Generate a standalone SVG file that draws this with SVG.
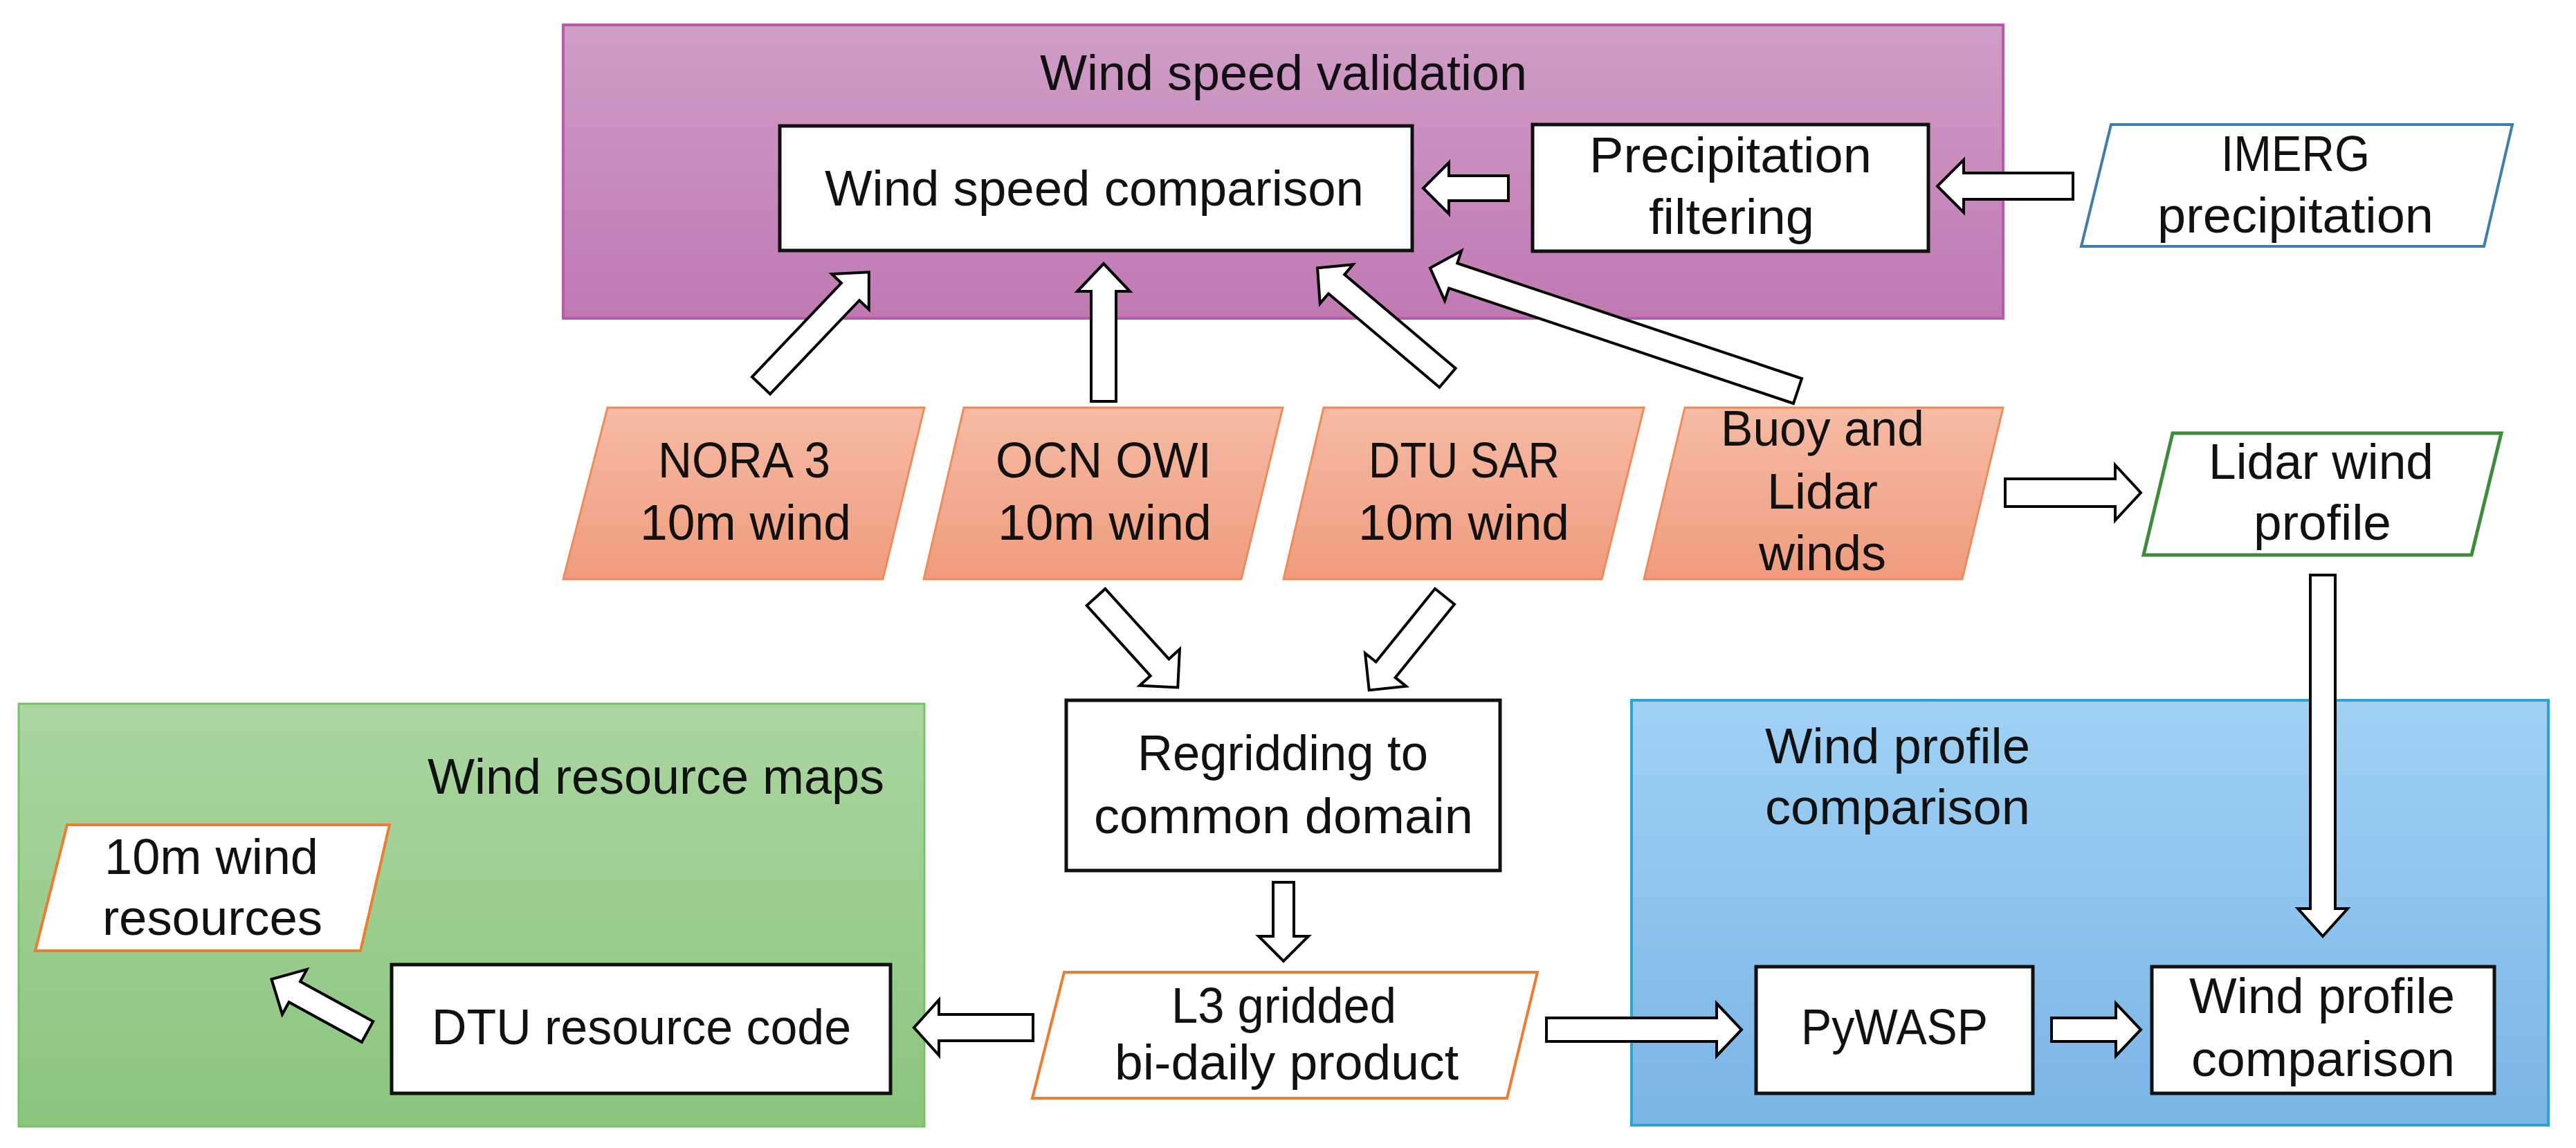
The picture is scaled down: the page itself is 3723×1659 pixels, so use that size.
<svg xmlns="http://www.w3.org/2000/svg" width="3723" height="1659" viewBox="0 0 3723 1659">
<defs>
<linearGradient id="gPurple" x1="0" y1="0" x2="0" y2="1"><stop offset="0" stop-color="#d09dc7"/><stop offset="1" stop-color="#bf79b2"/></linearGradient>
<linearGradient id="gGreen" x1="0" y1="0" x2="0" y2="1"><stop offset="0" stop-color="#aad6a1"/><stop offset="1" stop-color="#8bc57c"/></linearGradient>
<linearGradient id="gBlue" x1="0" y1="0" x2="0" y2="1"><stop offset="0" stop-color="#a0d1f5"/><stop offset="1" stop-color="#7ab5e5"/></linearGradient>
<linearGradient id="gOrange" x1="0" y1="0" x2="0" y2="1"><stop offset="0" stop-color="#f5bba4"/><stop offset="1" stop-color="#f09c7d"/></linearGradient>
<style>
.t{font-family:"Liberation Sans",Arial,sans-serif;font-size:72px;fill:#111}
.box{fill:#fff;stroke:#111;stroke-width:5}
.src{fill:url(#gOrange);stroke:#ef8a5a;stroke-width:3}
.out{fill:#fff;stroke:#ed7d31;stroke-width:4}
.arr{fill:#fff;stroke:#000;stroke-width:4;stroke-linejoin:miter}
</style>
</defs>
<rect width="3723" height="1659" fill="#fff"/>

<g id="wind-speed-validation">
<rect x="814" y="36" width="2081" height="424" fill="url(#gPurple)" stroke="#b65aa9" stroke-width="4"/>
<text class="t" x="1503" y="130" textLength="704" lengthAdjust="spacingAndGlyphs">Wind speed validation</text>
</g>
<g id="wind-resource-maps">
<rect x="27" y="1017" width="1309" height="611" fill="url(#gGreen)" stroke="#77c36a" stroke-width="3"/>
<text class="t" x="618" y="1147" textLength="660" lengthAdjust="spacingAndGlyphs">Wind resource maps</text>
</g>
<g id="wind-profile-comparison-group">
<rect x="2358" y="1012" width="1325" height="614" fill="url(#gBlue)" stroke="#2ea3d0" stroke-width="4"/>
<text class="t" x="2551" y="1103" textLength="383" lengthAdjust="spacingAndGlyphs">Wind profile</text>
<text class="t" x="2551" y="1191" textLength="383" lengthAdjust="spacingAndGlyphs">comparison</text>
</g>

<g id="wind-speed-comparison">
<rect class="box" x="1127" y="182" width="914" height="180"/>
<text class="t" x="1192" y="297" textLength="779" lengthAdjust="spacingAndGlyphs">Wind speed comparison</text>
</g>
<g id="precipitation-filtering">
<rect class="box" x="2215" y="180" width="572" height="183"/>
<text class="t" x="2297" y="249" textLength="408" lengthAdjust="spacingAndGlyphs">Precipitation</text>
<text class="t" x="2383" y="338" textLength="239" lengthAdjust="spacingAndGlyphs">filtering</text>
</g>
<g id="imerg">
<polygon points="3051,180 3631,180 3590,356 3008,356" fill="#fff" stroke="#3d7fa8" stroke-width="4"/>
<text class="t" x="3210" y="247" textLength="215" lengthAdjust="spacingAndGlyphs">IMERG</text>
<text class="t" x="3118" y="336" textLength="399" lengthAdjust="spacingAndGlyphs">precipitation</text>
</g>
<g id="nora3">
<polygon class="src" points="878,589 1336,589 1276,837 814,837"/>
<text class="t" x="951" y="690" textLength="249" lengthAdjust="spacingAndGlyphs">NORA 3</text>
<text class="t" x="925" y="780" textLength="305" lengthAdjust="spacingAndGlyphs">10m wind</text>
</g>
<g id="ocn-owi">
<polygon class="src" points="1393,589 1854,589 1794,837 1335,837"/>
<text class="t" x="1439" y="690" textLength="312" lengthAdjust="spacingAndGlyphs">OCN OWI</text>
<text class="t" x="1442" y="780" textLength="309" lengthAdjust="spacingAndGlyphs">10m wind</text>
</g>
<g id="dtu-sar">
<polygon class="src" points="1913,589 2376,589 2315,837 1855,837"/>
<text class="t" x="1978" y="690" textLength="276" lengthAdjust="spacingAndGlyphs">DTU SAR</text>
<text class="t" x="1963" y="780" textLength="305" lengthAdjust="spacingAndGlyphs">10m wind</text>
</g>
<g id="buoy-lidar">
<polygon class="src" points="2435,589 2895,589 2836,837 2376,837"/>
<text class="t" x="2487" y="644" textLength="294" lengthAdjust="spacingAndGlyphs">Buoy and</text>
<text class="t" x="2554" y="735" textLength="160" lengthAdjust="spacingAndGlyphs">Lidar</text>
<text class="t" x="2542" y="824" textLength="184" lengthAdjust="spacingAndGlyphs">winds</text>
</g>
<g id="lidar-wind-profile">
<polygon points="3140,626 3615,626 3572,802 3098,802" fill="#fff" stroke="#3c8c3c" stroke-width="5"/>
<text class="t" x="3192" y="692" textLength="325" lengthAdjust="spacingAndGlyphs">Lidar wind</text>
<text class="t" x="3257" y="780" textLength="199" lengthAdjust="spacingAndGlyphs">profile</text>
</g>
<g id="regridding">
<rect class="box" x="1541" y="1012" width="627" height="246"/>
<text class="t" x="1644" y="1113" textLength="420" lengthAdjust="spacingAndGlyphs">Regridding to</text>
<text class="t" x="1581" y="1204" textLength="548" lengthAdjust="spacingAndGlyphs">common domain</text>
</g>
<g id="l3-gridded">
<polygon class="out" points="1538,1405 2222,1405 2178,1587 1492,1587"/>
<text class="t" x="1693" y="1478" textLength="325" lengthAdjust="spacingAndGlyphs">L3 gridded</text>
<text class="t" x="1611" y="1560" textLength="497" lengthAdjust="spacingAndGlyphs">bi-daily product</text>
</g>
<g id="dtu-resource-code">
<rect class="box" x="566" y="1394" width="721" height="186"/>
<text class="t" x="624" y="1509" textLength="606" lengthAdjust="spacingAndGlyphs">DTU resource code</text>
</g>
<g id="wind-resources-10m">
<polygon class="out" points="97,1192 563,1192 521,1374 51,1374"/>
<text class="t" x="151" y="1263" textLength="309" lengthAdjust="spacingAndGlyphs">10m wind</text>
<text class="t" x="148" y="1351" textLength="318" lengthAdjust="spacingAndGlyphs">resources</text>
</g>
<g id="pywasp">
<rect class="box" x="2538" y="1397" width="400" height="183"/>
<text class="t" x="2603" y="1509" textLength="270" lengthAdjust="spacingAndGlyphs">PyWASP</text>
</g>
<g id="wind-profile-comparison">
<rect class="box" x="3110" y="1397" width="495" height="183"/>
<text class="t" x="3164" y="1464" textLength="384" lengthAdjust="spacingAndGlyphs">Wind profile</text>
<text class="t" x="3167" y="1555" textLength="381" lengthAdjust="spacingAndGlyphs">comparison</text>
</g>

<g id="connectors">
<path class="arr" transform="translate(2996 269) rotate(180)" d="M0,-19 H158 V-38 L196,0 L158,38 V19 H0 Z"/>
<path class="arr" transform="translate(2180 272) rotate(180)" d="M0,-18 H86 V-37 L123,0 L86,37 V18 H0 Z"/>
<path class="arr" transform="translate(1100 557) rotate(-46.4)" d="M0,-18 H187 V-37 L226,0 L187,37 V18 H0 Z"/>
<path class="arr" transform="translate(1595 580) rotate(-90)" d="M0,-18 H159 V-38 L199,0 L159,38 V18 H0 Z"/>
<path class="arr" transform="translate(2092 546) rotate(-139.8)" d="M0,-18 H210 V-37 L246,0 L210,37 V18 H0 Z"/>
<path class="arr" transform="translate(2598 565) rotate(-161.5)" d="M0,-19 H525 V-38 L560,0 L525,38 V19 H0 Z"/>
<path class="arr" transform="translate(2898 712)" d="M0,-20 H159 V-40 L196,0 L159,40 V20 H0 Z"/>
<path class="arr" transform="translate(3357 831) rotate(90)" d="M0,-18 H482 V-36 L522,0 L482,36 V18 H0 Z"/>
<path class="arr" transform="translate(1584 863) rotate(47.8)" d="M0,-18 H137 V-39 L176,0 L137,39 V18 H0 Z"/>
<path class="arr" transform="translate(2088 862) rotate(128.9)" d="M0,-18 H136 V-38 L174,0 L136,38 V18 H0 Z"/>
<path class="arr" transform="translate(1855 1275) rotate(90)" d="M0,-15 H78 V-36 L114,0 L78,36 V15 H0 Z"/>
<path class="arr" transform="translate(1493 1485) rotate(180)" d="M0,-19 H136 V-40 L172,0 L136,40 V19 H0 Z"/>
<path class="arr" transform="translate(531 1491) rotate(-151.3)" d="M0,-17 H120 V-37 L158,0 L120,37 V17 H0 Z"/>
<path class="arr" transform="translate(2235 1488)" d="M0,-17 H246 V-38 L282,0 L246,38 V17 H0 Z"/>
<path class="arr" transform="translate(2965 1488)" d="M0,-17 H93 V-38 L129,0 L93,38 V17 H0 Z"/>
</g>
</svg>
